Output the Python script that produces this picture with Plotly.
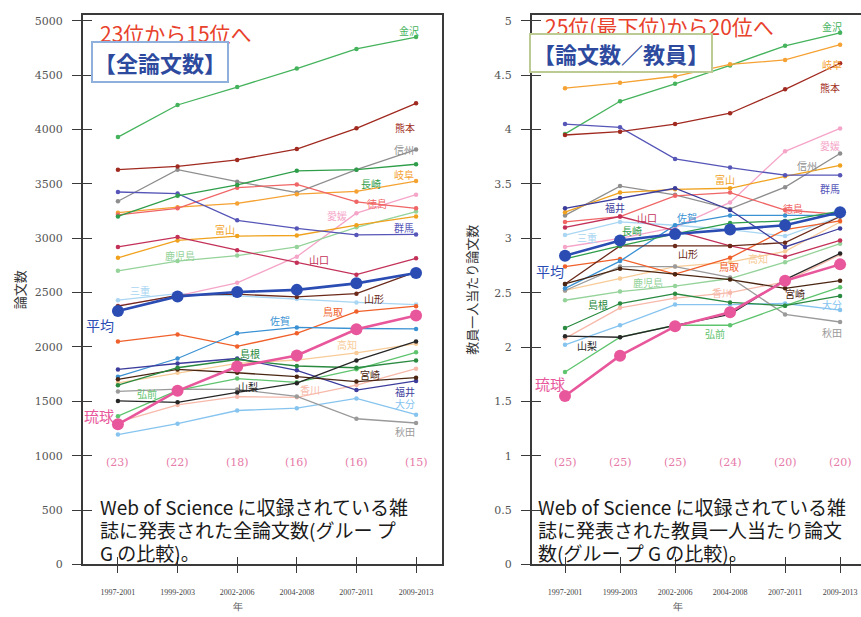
import plotly.graph_objects as go

periods = ["1997-2001", "1999-2003", "2002-2006", "2004-2008", "2007-2011", "2009-2013"]
y1_ticks = [0, 500, 1000, 1500, 2000, 2500, 3000, 3500, 4000, 4500, 5000]
y2_ticks = [0, 0.5, 1, 1.5, 2, 2.5, 3, 3.5, 4, 4.5, 5]
y2_ticktext = ["0", "0.5", "1", "1.5", "2", "2.5", "3", "3.5", "4", "4.5", "5"]
rank_total = ["(23)", "(22)", "(18)", "(16)", "(16)", "(15)"]
rank_per = ["(25)", "(25)", "(25)", "(24)", "(20)", "(20)"]

# total papers
kanazawa_t = [3930, 4225, 4390, 4560, 4740, 4850]
kumamoto_t = [3630, 3660, 3720, 3820, 4010, 4240]
shinshu_t = [3340, 3630, 3520, 3420, 3630, 3815]
nagasaki_t = [3200, 3390, 3490, 3620, 3630, 3680]
gifu_t = [3235, 3285, 3320, 3405, 3430, 3525]
tokushima_t = [3215, 3275, 3465, 3495, 3335, 3275]
gunma_t = [3425, 3410, 3165, 3090, 3030, 3035]
ehime_t = [2380, 2470, 2590, 2830, 3230, 3400]
toyama_t = [2820, 2980, 3020, 3025, 3120, 3200]
kagoshima_t = [2700, 2790, 2840, 2920, 3100, 3245]
yamaguchi_t = [2920, 3010, 2890, 2775, 2665, 2815]
mie_t = [2430, 2490, 2470, 2440, 2410, 2390]
yamagata_t = [2375, 2475, 2485, 2460, 2490, 2690]
heikin_t = [2330, 2465, 2505, 2525, 2585, 2680]
tottori_t = [2050, 2115, 2005, 2126, 2325, 2375]
saga_t = [1727, 1894, 2126, 2180, 2170, 2166]
ryukyu_t = [1289, 1597, 1820, 1921, 2163, 2290]
kochi_t = [1670, 1763, 1850, 1880, 1945, 2030]
shimane_t = [1649, 1809, 1885, 1825, 1809, 1876]
yamanashi_t = [1504, 1491, 1582, 1667, 1876, 2051]
fukui_t = [1794, 1848, 1894, 1785, 1604, 1688]
miyazaki_t = [1703, 1794, 1763, 1727, 1682, 1718]
hirosaki_t = [1364, 1600, 1709, 1675, 1795, 1951]
kagawa_t = [1310, 1467, 1543, 1537, 1650, 1800]
akita_t = [1591, 1612, 1610, 1545, 1340, 1301]
oita_t = [1195, 1295, 1416, 1437, 1527, 1377]

# papers per faculty member
kanazawa_p = [3.96, 4.26, 4.42, 4.59, 4.77, 4.89]
gifu_p = [4.38, 4.43, 4.49, 4.60, 4.64, 4.78]
kumamoto_p = [3.95, 3.98, 4.05, 4.15, 4.37, 4.61]
gunma_p = [4.05, 4.02, 3.73, 3.65, 3.58, 3.58]
ehime_p = [2.92, 3.00, 3.10, 3.33, 3.80, 4.01]
shinshu_p = [3.21, 3.48, 3.40, 3.27, 3.47, 3.78]
toyama_p = [3.24, 3.42, 3.45, 3.46, 3.57, 3.67]
fukui_p = [3.275, 3.37, 3.46, 3.26, 2.92, 3.09]
tokushima_p = [3.15, 3.20, 3.39, 3.42, 3.26, 3.22]
yamaguchi_p = [3.10, 3.20, 3.07, 2.93, 2.83, 2.98]
saga_p = [2.54, 2.79, 3.12, 3.21, 3.21, 3.21]
nagasaki_p = [2.81, 2.93, 3.04, 3.14, 3.16, 3.25]
heikin_p = [2.84, 2.98, 3.04, 3.08, 3.12, 3.24]
mie_p = [3.03, 3.15, 3.12, 3.08, 3.02, 3.20]
yamagata_p = [2.58, 2.93, 2.93, 2.93, 2.96, 3.20]
tottori_p = [2.74, 2.81, 2.67, 2.82, 3.08, 3.16]
miyazaki_p = [2.58, 2.72, 2.67, 2.62, 2.54, 2.61]
kochi_p = [2.52, 2.63, 2.74, 2.78, 2.88, 3.15]
kagoshima_p = [2.43, 2.51, 2.56, 2.63, 2.78, 2.95]
shimane_p = [2.175, 2.40, 2.49, 2.41, 2.38, 2.47]
kagawa_p = [2.08, 2.36, 2.45, 2.50, 2.60, 2.85]
oita_p = [2.02, 2.20, 2.39, 2.39, 2.40, 2.34]
akita_p = [2.52, 2.74, 2.74, 2.64, 2.30, 2.23]
yamanashi_p = [2.10, 2.09, 2.20, 2.30, 2.62, 2.86]
hirosaki_p = [1.77, 2.09, 2.20, 2.20, 2.38, 2.55]
ryukyu_p = [1.55, 1.92, 2.19, 2.32, 2.61, 2.76]

# name, colour, total, per-faculty
series = [
    ("三重", "#a9d6f2", mie_t, mie_p),
    ("香川", "#f7b9aa", kagawa_t, kagawa_p),
    ("高知", "#f8cc98", kochi_t, kochi_p),
    ("愛媛", "#f5a5c8", ehime_t, ehime_p),
    ("鹿児島", "#95d39a", kagoshima_t, kagoshima_p),
    ("大分", "#86c4ef", oita_t, oita_p),
    ("秋田", "#9a9a9a", akita_t, akita_p),
    ("信州", "#8e8e8e", shinshu_t, shinshu_p),
    ("弘前", "#5fc46e", hirosaki_t, hirosaki_p),
    ("金沢", "#45b35c", kanazawa_t, kanazawa_p),
    ("岐阜", "#f5a233", gifu_t, gifu_p),
    ("富山", "#f0a21e", toyama_t, toyama_p),
    ("徳島", "#f06565", tokushima_t, tokushima_p),
    ("鳥取", "#f0602a", tottori_t, tottori_p),
    ("佐賀", "#3b92d3", saga_t, saga_p),
    ("群馬", "#5656b8", gunma_t, gunma_p),
    ("福井", "#3c3c9c", fukui_t, fukui_p),
    ("山口", "#c33158", yamaguchi_t, yamaguchi_p),
    ("熊本", "#a02a20", kumamoto_t, kumamoto_p),
    ("山形", "#6b2a1a", yamagata_t, yamagata_p),
    ("宮崎", "#4a2612", miyazaki_t, miyazaki_p),
    ("長崎", "#2f9e4a", nagasaki_t, nagasaki_p),
    ("島根", "#2a8a40", shimane_t, shimane_p),
    ("山梨", "#262626", yamanashi_t, yamanashi_p),
]
heikin_color = "#2b4db3"
ryukyu_color = "#e8579b"

# label positions (category index, value)
labels_t = {
    "金沢": (4.88, 4910), "熊本": (4.81, 4020), "信州": (4.80, 3820), "岐阜": (4.80, 3590),
    "長崎": (4.25, 3505), "徳島": (4.34, 3320), "愛媛": (3.67, 3205), "群馬": (4.80, 3100),
    "富山": (1.80, 3080), "鹿児島": (1.04, 2840), "山口": (3.38, 2800), "三重": (0.37, 2520),
    "山形": (4.30, 2450), "鳥取": (3.60, 2330), "佐賀": (2.72, 2240), "高知": (3.85, 2020),
    "島根": (2.22, 1940), "宮崎": (4.22, 1745), "山梨": (2.18, 1640), "香川": (3.22, 1610),
    "弘前": (0.49, 1570), "福井": (4.81, 1590), "大分": (4.81, 1480), "秋田": (4.81, 1220),
}
labels_p = {
    "金沢": (4.85, 4.95), "岐阜": (4.85, 4.60), "熊本": (4.82, 4.39), "愛媛": (4.82, 3.85),
    "信州": (4.40, 3.67), "群馬": (4.82, 3.46), "富山": (2.91, 3.54), "福井": (0.91, 3.28),
    "山口": (1.49, 3.19), "佐賀": (2.22, 3.19), "徳島": (4.14, 3.27), "長崎": (1.21, 3.07),
    "三重": (0.40, 3.01), "山形": (2.24, 2.86), "高知": (3.51, 2.81), "鳥取": (2.98, 2.74),
    "鹿児島": (1.51, 2.59), "香川": (2.85, 2.50), "宮崎": (4.18, 2.49), "島根": (0.60, 2.39),
    "大分": (4.85, 2.39), "弘前": (2.73, 2.12), "秋田": (4.85, 2.13), "山梨": (0.40, 2.01),
}

fig = go.Figure()

for name, col, tv, pv in series:
    fig.add_trace(go.Scatter(x=periods, y=tv, mode="lines+markers", name=name,
                             line=dict(color=col, width=1.3), marker=dict(size=4.5, color=col),
                             xaxis="x", yaxis="y", showlegend=False))
    fig.add_trace(go.Scatter(x=periods, y=pv, mode="lines+markers", name=name,
                             line=dict(color=col, width=1.3), marker=dict(size=4.5, color=col),
                             xaxis="x2", yaxis="y2", showlegend=False))

for tv, pv, col in [(heikin_t, heikin_p, heikin_color), (ryukyu_t, ryukyu_p, ryukyu_color)]:
    fig.add_trace(go.Scatter(x=periods, y=tv, mode="lines+markers", line=dict(color=col, width=2.6),
                             marker=dict(size=12, color=col), xaxis="x", yaxis="y", showlegend=False))
    fig.add_trace(go.Scatter(x=periods, y=pv, mode="lines+markers", line=dict(color=col, width=2.6),
                             marker=dict(size=12, color=col), xaxis="x2", yaxis="y2", showlegend=False))

# dummy traces for crossing-tick overlay axes
fig.add_trace(go.Scatter(x=[], y=[], xaxis="x3", yaxis="y3", showlegend=False))
fig.add_trace(go.Scatter(x=[], y=[], xaxis="x4", yaxis="y4", showlegend=False))

serif = "Liberation Serif"
serif2 = "DejaVu Serif"
cjk = "Noto Sans CJK JP"
axcol = "#3a3a3a"

ydom = [0.0746, 0.9757]
x1dom = [0.0964, 0.5134]
x2dom = [0.6179, 1.0]
x1rng = [-0.586, 5.436]
x2rng = [-0.6, 5.38]
y1rng = [0, 5054]
y2rng = [0, 5.055]

common_line = dict(showline=True, linecolor=axcol, linewidth=2, showgrid=False, zeroline=False)

fig.update_layout(
    width=861, height=617, margin=dict(l=0, r=0, t=0, b=0),
    paper_bgcolor="white", plot_bgcolor="white",
    xaxis=dict(domain=x1dom, range=x1rng, anchor="y", type="category", categoryarray=periods,
               ticks="outside", ticklen=7, tickwidth=1.2, tickcolor=axcol, mirror=True, ticklabelstandoff=12,
               tickfont=dict(family=serif, size=8, color="#444"), **common_line),
    yaxis=dict(domain=ydom, range=y1rng, anchor="x", tickvals=y1_ticks,
               ticks="outside", ticklen=9, tickwidth=1.2, tickcolor=axcol, mirror=True, ticklabelstandoff=7,
               tickfont=dict(family=serif2, size=11, color="#555"),
               title=dict(text="論文数", font=dict(family=cjk, size=13, color="#333"), standoff=6),
               **common_line),
    xaxis2=dict(domain=x2dom, range=x2rng, anchor="y2", type="category", categoryarray=periods,
                ticks="outside", ticklen=7, tickwidth=1.2, tickcolor=axcol, mirror=True, ticklabelstandoff=12,
                tickfont=dict(family=serif, size=8, color="#444"), **common_line),
    yaxis2=dict(domain=ydom, range=y2rng, anchor="x2", tickvals=y2_ticks, ticktext=y2_ticktext,
                ticks="outside", ticklen=9, tickwidth=1.2, tickcolor=axcol, ticklabelstandoff=7,
                tickfont=dict(family=serif2, size=11, color="#555"),
                title=dict(text="教員一人当たり論文数", font=dict(family=cjk, size=13, color="#333"), standoff=14),
                **common_line),
    xaxis3=dict(overlaying="x", anchor="y3", range=x1rng, type="linear", tickvals=list(range(len(periods))),
                ticks="inside", ticklen=7, tickwidth=1.2, tickcolor=axcol, showticklabels=False,
                showline=False, showgrid=False, zeroline=False),
    yaxis3=dict(overlaying="y", anchor="x3", range=y1rng, tickvals=y1_ticks,
                ticks="inside", ticklen=9, tickwidth=1.2, tickcolor=axcol, showticklabels=False,
                showline=False, showgrid=False, zeroline=False),
    xaxis4=dict(overlaying="x2", anchor="y4", range=x2rng, type="linear", tickvals=list(range(len(periods))),
                ticks="inside", ticklen=7, tickwidth=1.2, tickcolor=axcol, showticklabels=False,
                showline=False, showgrid=False, zeroline=False),
    yaxis4=dict(overlaying="y2", anchor="x4", range=y2rng, tickvals=y2_ticks,
                ticks="inside", ticklen=9, tickwidth=1.2, tickcolor=axcol, showticklabels=False,
                showline=False, showgrid=False, zeroline=False),
)

ann = []
color_of = {n: c for n, c, _, _ in series}
for n, (xi, yv) in labels_t.items():
    ann.append(dict(x=xi, y=yv, xref="x", yref="y", text=n, showarrow=False,
                    font=dict(family=cjk, size=10, color=color_of[n])))
for n, (xi, yv) in labels_p.items():
    ann.append(dict(x=xi, y=yv, xref="x2", yref="y2", text=n, showarrow=False,
                    font=dict(family=cjk, size=10, color=color_of[n])))
ann += [
    dict(x=-0.30, y=2200, xref="x", yref="y", text="平均", showarrow=False,
         font=dict(family=cjk, size=14, color=heikin_color)),
    dict(x=-0.31, y=1370, xref="x", yref="y", text="琉球", showarrow=False,
         font=dict(family=cjk, size=15, color=ryukyu_color)),
    dict(x=-0.27, y=2.70, xref="x2", yref="y2", text="平均", showarrow=False,
         font=dict(family=cjk, size=14, color=heikin_color)),
    dict(x=-0.27, y=1.66, xref="x2", yref="y2", text="琉球", showarrow=False,
         font=dict(family=cjk, size=15, color=ryukyu_color)),
]
for i, r in enumerate(rank_total):
    ann.append(dict(x=i, y=940, xref="x", yref="y", text=r, showarrow=False,
                    font=dict(family=serif2, size=11, color="#e67aa8")))
for i, r in enumerate(rank_per):
    ann.append(dict(x=i, y=0.94, xref="x2", yref="y2", text=r, showarrow=False,
                    font=dict(family=serif2, size=11, color="#e67aa8")))


def paper_ann(px, py, text, font, xanchor="left", **kw):
    return dict(x=px / 861, y=1 - py / 617, xref="paper", yref="paper", text=text, showarrow=False,
                xanchor=xanchor, yanchor="middle", font=font, **kw)


# headings
ann += [
    paper_ann(98, 33, "23位から15位へ", dict(family=cjk, size=21, color="#e8412c")),
    paper_ann(160, 63, "<b>【全論文数】</b>", dict(family=cjk, size=22, color="#2d4a9e"), xanchor="center",
              bordercolor="#8fb0dc", borderwidth=2, borderpad=1, bgcolor="white", width=132, height=36),
    paper_ann(543, 26, "25位(最下位)から20位へ", dict(family=cjk, size=21, color="#e8412c")),
    paper_ann(621, 54, "<b>【論文数／教員】</b>", dict(family=cjk, size=22, color="#2d4a9e"), xanchor="center",
              bordercolor="#bccb94", borderwidth=2, borderpad=1, bgcolor="white", width=178, height=34),
]
left_lines = ["Web of Science に収録されている雑", "誌に発表された全論文数(グルー プ", "G の比較)。"]
right_lines = ["Web of Science に収録されている雑", "誌に発表された教員一人当たり論文", "数(グルー プ G の比較)。"]
for k, t in enumerate(left_lines):
    ann.append(paper_ann(98, 512 + 23.5 * k, t, dict(family=cjk, size=19, color="#1a1a1a")))
for k, t in enumerate(right_lines):
    ann.append(paper_ann(536, 512 + 23.5 * k, t, dict(family=cjk, size=19, color="#1a1a1a")))
ann += [
    paper_ann(238, 613, "年", dict(family=serif, size=10, color="#555"), xanchor="center"),
    paper_ann(678, 613, "年", dict(family=serif, size=10, color="#555"), xanchor="center"),
]
fig.update_layout(annotations=ann)
fig.write_html("out.html", config={"displayModeBar": False},
               post_script="document.body.style.margin='0';document.body.style.overflow='hidden';")
